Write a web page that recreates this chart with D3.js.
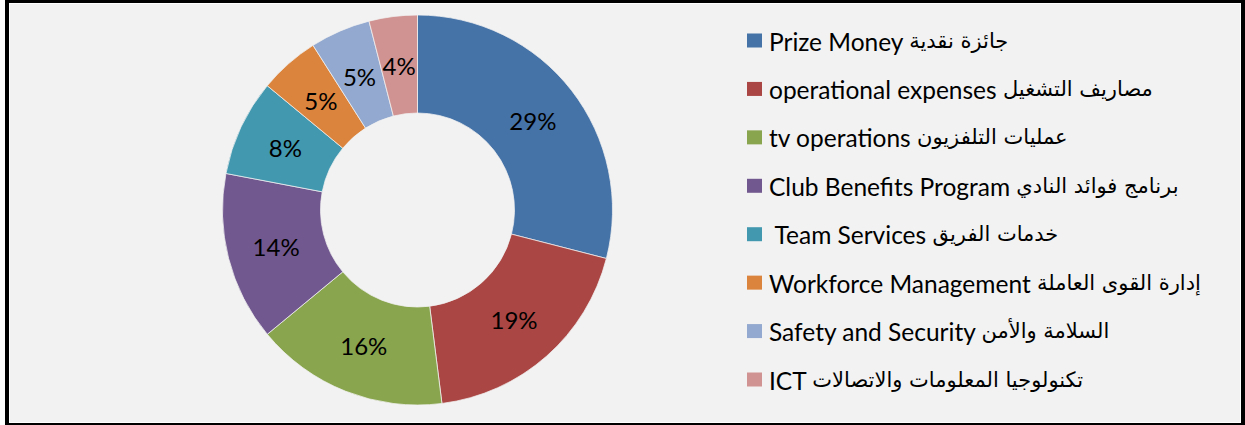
<!DOCTYPE html>
<html>
<head>
<meta charset="utf-8">
<script src="https://cdn.jsdelivr.net/npm/d3@7"></script>
<style>
  html, body { margin: 0; padding: 0; background: #ffffff; }
  svg { display: block; }
  text { white-space: pre; }
</style>
</head>
<body>
<svg id="chart" width="1245" height="425"></svg>
<script>
const categories = [
  "Prize Money جائزة نقدية",
  "operational expenses مصاريف التشغيل",
  "tv operations عمليات التلفزيون",
  "Club Benefits Program برنامج فوائد النادي",
  " Team Services خدمات الفريق",
  "Workforce Management إدارة القوى العاملة",
  "Safety and Security السلامة والأمن",
  "ICT تكنولوجيا المعلومات والاتصالات"
];
const values = [29, 19, 16, 14, 8, 5, 5, 4];
const labels = ["29%", "19%", "16%", "14%", "8%", "5%", "5%", "4%"];
const colors = ["#4572A7", "#AA4643", "#89A54E", "#71588F", "#4198AF", "#DB843D", "#93A9CF", "#D19392"];

const svg = d3.select("#chart");

// frame
svg.append("rect").attr("x", 5).attr("y", 0).attr("width", 1240).attr("height", 425).attr("fill", "#000");
svg.append("rect").attr("x", 9).attr("y", 3).attr("width", 1232).attr("height", 420).attr("fill", "#ffffff");
svg.append("rect").attr("x", 10).attr("y", 4).attr("width", 1230).attr("height", 418).attr("fill", "#F2F2F2");

const cx = 417.5, cy = 210, rOuter = 195, rInner = 97;
const g = svg.append("g").attr("transform", `translate(${cx},${cy})`);

const pie = d3.pie().sort(null).value(d => d);
const arcs = pie(values);
const arc = d3.arc().innerRadius(rInner).outerRadius(rOuter);
const labelArc = d3.arc().innerRadius((rInner + rOuter) / 2).outerRadius((rInner + rOuter) / 2);

g.selectAll("path.slice").data(arcs).enter().append("path")
  .attr("class", "slice")
  .attr("d", arc)
  .attr("fill", (d, i) => colors[i])
  .attr("stroke", "#F2F2F2")
  .attr("stroke-width", 0.75);

g.selectAll("text.lbl").data(arcs).enter().append("text")
  .attr("class", "lbl")
  .attr("transform", d => `translate(${labelArc.centroid(d)})`)
  .attr("text-anchor", "middle")
  .attr("dominant-baseline", "central")
  .attr("font-family", "Lato, 'DejaVu Sans', sans-serif")
  .attr("font-size", 24)
  .attr("fill", "#000")
  .text((d, i) => labels[i]);

// legend
const ly = d3.scalePoint().domain(d3.range(categories.length)).range([40.5, 379.5]);
const leg = svg.append("g");
const items = leg.selectAll("g.item").data(categories).enter().append("g")
  .attr("class", "item")
  .attr("transform", (d, i) => `translate(747,${ly(i)})`);
items.append("rect")
  .attr("x", 0).attr("y", -7).attr("width", 15).attr("height", 14)
  .attr("fill", (d, i) => colors[i]);
const txt = items.append("text")
  .attr("x", 22).attr("y", 0)
  .attr("dominant-baseline", "central")
  .attr("direction", "ltr")
  .attr("fill", "#000");
txt.each(function(d) {
  const m = d.match(/^(.*?)([\u0600-\u06FF].*)$/);
  const t = d3.select(this);
  t.append("tspan")
    .attr("font-family", "Lato, 'DejaVu Sans', sans-serif")
    .attr("font-size", 24.5)
    .text(m ? m[1] : d);
  if (m) {
    t.append("tspan")
      .attr("font-family", "'DejaVu Sans', sans-serif")
      .attr("font-size", 21)
      .text(m[2]);
  }
});
</script>
</body>
</html>
